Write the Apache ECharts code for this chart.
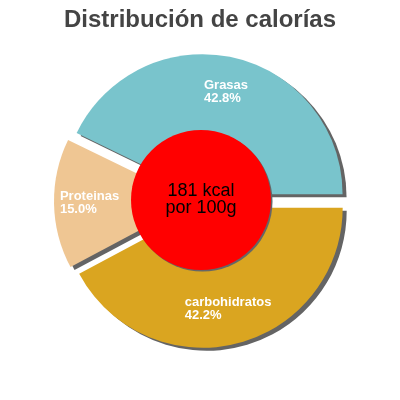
<!DOCTYPE html>
<html>
<head>
<meta charset="utf-8">
<script src="https://cdn.jsdelivr.net/npm/echarts@6/dist/echarts.min.js"></script>
<style>
html,body{margin:0;padding:0;background:#fff;}
#chart{width:400px;height:400px;}
</style>
</head>
<body>
<div id="chart"></div>
<script>
const titleText = 'Distribución de calorías';
const categories = ['Grasas', 'Proteinas', 'carbohidratos'];
const percentages = [42.8, 15.0, 42.2];
const centerLines = ['181 kcal', 'por 100g'];
const palette = ['#79C4CC', '#EFC693', '#DAA520'];

const FONT = '"Liberation Sans", Arial, sans-serif';
const chart = echarts.init(document.getElementById('chart'), null, {renderer: 'canvas'});

const shadow = {
  borderWidth: 0,
  shadowColor: '#646464',
  shadowBlur: 0,
  shadowOffsetX: 4,
  shadowOffsetY: 3
};

const sliceData = categories.map((name, i) => ({
  name: name,
  value: percentages[i],
  selected: true,
  itemStyle: {color: palette[i]},
  select: {itemStyle: {color: palette[i]}}
}));

const labelData = categories.map((name, i) => ({
  name: name,
  value: percentages[i],
  selected: true
}));

const common = {
  type: 'pie',
  center: [201, 201],
  startAngle: 0,
  clockwise: false,
  selectedMode: 'multiple',
  selectedOffset: 7,
  avoidLabelOverlap: false,
  emphasis: {disabled: true, scale: false},
  labelLine: {show: false}
};

chart.setOption({
  animation: false,
  backgroundColor: '#ffffff',
  title: {
    text: titleText,
    left: 'center',
    top: 3,
    textStyle: {fontFamily: FONT, fontSize: 24, fontWeight: 'bold', color: '#444444'}
  },
  series: [
    Object.assign({}, common, {
      radius: [0, 140],
      itemStyle: shadow,
      select: {itemStyle: shadow},
      label: {show: false},
      data: sliceData
    }),
    Object.assign({}, common, {
      radius: [63, 140],
      silent: true,
      itemStyle: {color: 'rgba(0,0,0,0)'},
      select: {itemStyle: {color: 'rgba(0,0,0,0)'}},
      label: {
        show: true,
        position: 'inside',
        formatter: p => '{a|' + p.name + '}\n{a|' + p.value.toFixed(1) + '%}',
        rich: {
          a: {color: '#ffffff', fontFamily: FONT, fontSize: 13, fontWeight: 'bold', lineHeight: 13, align: 'left'}
        }
      },
      data: labelData
    }),
    {
      type: 'pie',
      center: [201, 200],
      radius: [0, 70],
      silent: true,
      emphasis: {disabled: true},
      itemStyle: {
        color: '#ff0000',
        shadowColor: '#666666',
        shadowBlur: 0,
        shadowOffsetX: 1.5,
        shadowOffsetY: 1.5
      },
      label: {
        show: true,
        position: 'center',
        formatter: centerLines.join('\n'),
        color: '#000000',
        fontFamily: FONT,
        fontSize: 18,
        lineHeight: 17
      },
      labelLine: {show: false},
      data: [{name: 'total', value: 1}]
    }
  ]
});
</script>
</body>
</html>
